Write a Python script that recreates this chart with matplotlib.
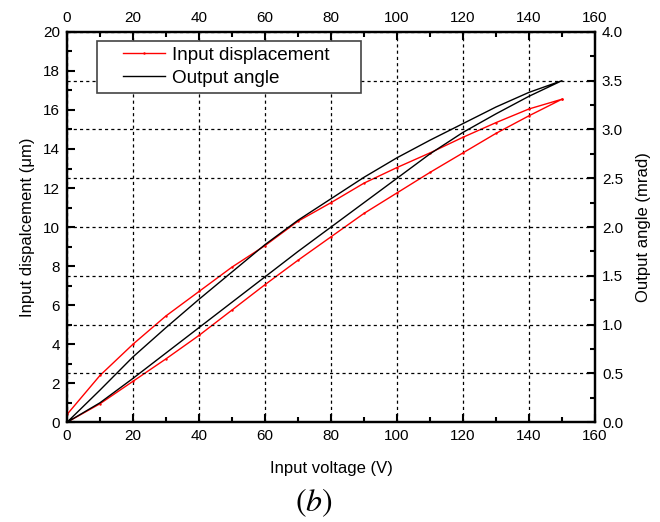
import numpy as np
import matplotlib
matplotlib.use('Agg')
import matplotlib.pyplot as plt
from matplotlib.ticker import MultipleLocator
from matplotlib.patches import Rectangle

plt.rcParams['font.family'] = ['Liberation Sans', 'DejaVu Sans']

# input voltage (V), up then down
volt_up = [0, 10, 20, 30, 40, 50, 60, 70, 80, 90, 100, 110, 120, 130, 140, 150]
volt_down = volt_up[::-1]

# input displacement (um)
disp_up = [0.0, 0.95, 2.1, 3.25, 4.45, 5.75, 7.05, 8.3, 9.5, 10.7, 11.75, 12.8, 13.8, 14.8, 15.7, 16.55]
disp_down = [16.55, 16.05, 15.35, 14.6, 13.8, 13.05, 12.25, 11.25, 10.3, 9.05, 7.95, 6.7, 5.45, 4.0, 2.4, 0.4]

# output angle (mrad)
angle_up = [0.0, 0.20, 0.45, 0.71, 0.97, 1.23, 1.49, 1.75, 2.00, 2.25, 2.50, 2.75, 2.97, 3.16, 3.34, 3.50]
angle_down = [3.50, 3.38, 3.23, 3.06, 2.89, 2.71, 2.51, 2.29, 2.07, 1.82, 1.54, 1.26, 0.97, 0.67, 0.33, 0.0]

fig = plt.figure(figsize=(6.6, 5.22), dpi=100)
ax = fig.add_axes([0.1015, 0.191, 0.80, 0.748])
ax2 = ax.twinx()

volt = volt_up + volt_down
disp = disp_up + disp_down
angle = angle_up + angle_down

l1, = ax.plot(volt, disp, color='red', lw=1.0, marker='.', markersize=1.5,
              label='Input displacement')
l2, = ax2.plot(volt, angle, color='black', lw=1.0, label='Output angle')

ax.set_xlim(0, 160)
ax.set_ylim(0, 20)
ax2.set_ylim(0, 4.0)

ax.xaxis.set_major_locator(MultipleLocator(20))
ax.xaxis.set_minor_locator(MultipleLocator(10))
ax.yaxis.set_major_locator(MultipleLocator(2))
ax.yaxis.set_minor_locator(MultipleLocator(1))
ax2.yaxis.set_major_locator(MultipleLocator(0.5))
ax2.yaxis.set_minor_locator(MultipleLocator(0.25))
ax2.yaxis.set_major_formatter(plt.FormatStrFormatter('%.1f'))

ax.tick_params(which='both', direction='in', top=True, labeltop=True,
               right=False, width=1.5, labelsize=11, pad=5)
ax.tick_params(which='major', length=6)
ax.tick_params(which='minor', length=3.5)
ax2.tick_params(which='both', direction='in', width=1.5, labelsize=11, pad=5)
ax2.tick_params(which='major', length=6)
ax2.tick_params(which='minor', length=3.5)

for a in (ax, ax2):
    for s in a.spines.values():
        s.set_linewidth(1.6)

# grid: vertical from x majors, horizontal from right-axis majors
ax.xaxis.grid(True, which='major', color='black', lw=0.9, linestyle=(0, (2.5, 2.5)))
ax2.yaxis.grid(True, which='major', color='black', lw=0.9, linestyle=(0, (2.5, 2.5)))

ax.set_xlabel('Input voltage (V)', fontsize=12, labelpad=13)
ax.set_ylabel('Input dispalcement (\u03bcm)', fontsize=12, labelpad=6)
ax2.set_ylabel('Output angle (mrad)', fontsize=12, labelpad=9)

# legend box drawn by hand, legend itself frameless
box = Rectangle((0.057, 0.844), 0.5, 0.133, transform=ax2.transAxes,
                facecolor='white', edgecolor='#444444', lw=1.2, zorder=5)
ax2.add_patch(box)
leg = ax2.legend(handles=[l1, l2], loc='center left', bbox_to_anchor=(0.106, 0.9105),
                 fontsize=13.6, frameon=False, borderpad=0, borderaxespad=0,
                 handlelength=2.2, handletextpad=0.4, labelspacing=0.3)
leg.set_zorder(6)

fig.text(0.476, 0.036, '$(b)$', fontsize=23, ha='center', va='center',
         math_fontfamily='stix')

fig.savefig('out.png', dpi=100)
